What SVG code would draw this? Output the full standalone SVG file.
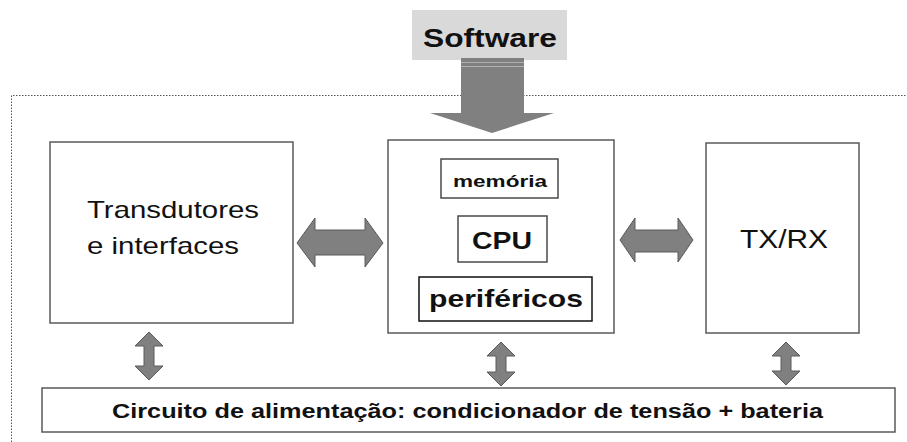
<svg xmlns="http://www.w3.org/2000/svg" width="907" height="442" viewBox="0 0 907 442">
  <style>
    .box { fill: #ffffff; stroke: #5a5a5a; stroke-width: 1.5; }
    .inner { fill: #ffffff; stroke: #4a4a4a; stroke-width: 1.5; }
    .dark { fill: #ffffff; stroke: #111111; stroke-width: 1.5; }
    .arrow { fill: #808080; stroke: #5a5a5a; stroke-width: 1; stroke-linejoin: miter; }
    .label { font-family: "Liberation Sans", Arial, sans-serif; fill: #111111; }
    .bold { font-weight: bold; }
  </style>

  <rect x="0" y="0" width="907" height="442" fill="#ffffff"/>

  <!-- dotted system boundary (open to the right and bottom) -->
  <path d="M11.5,442 V95.5 H907" fill="none" stroke="#555555" stroke-width="1" stroke-dasharray="1.5,1.5"/>

  <!-- software source -->
  <g id="software">
    <rect x="412" y="10" width="155" height="50" fill="#d9d9d9"/>
    <text class="label bold" x="423" y="47" font-size="26" textLength="134" lengthAdjust="spacingAndGlyphs">Software</text>
  </g>

  <g id="transdutores">
    <rect class="box" x="50" y="142" width="243" height="181"/>
    <text class="label" x="87" y="218" font-size="24" textLength="172" lengthAdjust="spacingAndGlyphs">Transdutores</text>
    <text class="label" x="87" y="254" font-size="24" textLength="152" lengthAdjust="spacingAndGlyphs">e interfaces</text>
  </g>

  <g id="processador">
    <rect class="box" x="388" y="140" width="226" height="193"/>
    <g id="memoria">
      <rect class="inner" x="441" y="159" width="117" height="39"/>
      <text class="label bold" x="453" y="187" font-size="17" textLength="94" lengthAdjust="spacingAndGlyphs">memória</text>
    </g>
    <g id="cpu">
      <rect class="inner" x="458" y="216" width="89" height="46"/>
      <text class="label bold" x="472" y="249" font-size="24" textLength="60" lengthAdjust="spacingAndGlyphs">CPU</text>
    </g>
    <g id="perifericos">
      <rect class="dark" x="419" y="277" width="173" height="44"/>
      <text class="label bold" x="429" y="307" font-size="24" textLength="154" lengthAdjust="spacingAndGlyphs">periféricos</text>
    </g>
  </g>

  <g id="txrx">
    <rect class="box" x="706" y="143" width="153" height="190"/>
    <text class="label" x="740" y="248" font-size="26" textLength="88" lengthAdjust="spacingAndGlyphs">TX/RX</text>
  </g>

  <g id="alimentacao">
    <rect class="box" x="42" y="388" width="853" height="44"/>
    <text class="label bold" x="112" y="418" font-size="20" textLength="711" lengthAdjust="spacingAndGlyphs">Circuito de alimentação: condicionador de tensão + bateria</text>
  </g>

  <g id="connectors">
    <!-- software into processor -->
    <polygon points="461,58 524,58 524,113 554,113 492,133 430,113 461,113" fill="#808080"/>
    <line x1="461" y1="62.5" x2="524" y2="62.5" stroke="#b0b0b0" stroke-width="1"/>
    <line x1="461" y1="66.5" x2="524" y2="66.5" stroke="#b0b0b0" stroke-width="1"/>

    <!-- horizontal buses -->
    <polygon class="arrow" points="297,243 315,218 315,230 365,230 365,218 383,243 365,267 365,255 315,255 315,267"/>
    <polygon class="arrow" points="620,240 635,218 635,230 678,230 678,218 693,240 678,262 678,252 635,252 635,262"/>

    <!-- power links -->
    <polygon class="arrow" points="149,332 163,346 154,346 154,366 163,366 149,380 135,366 144,366 144,346 135,346"/>
    <polygon class="arrow" points="501,342 515,356 506,356 506,372 515,372 501,386 487,372 496,372 496,356 487,356"/>
    <polygon class="arrow" points="786,342 800,356 791,356 791,371 800,371 786,385 772,371 781,371 781,356 772,356"/>
  </g>
</svg>
